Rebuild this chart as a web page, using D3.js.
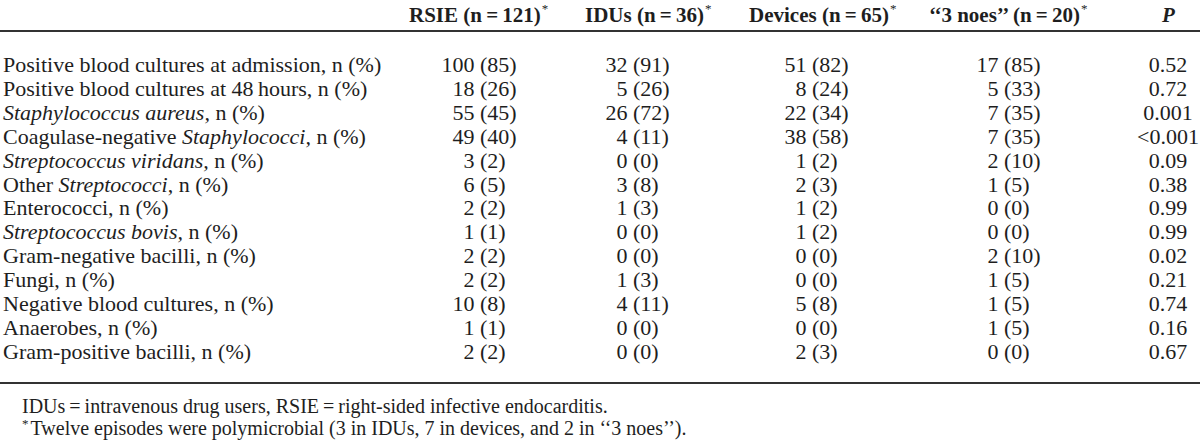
<!DOCTYPE html>
<html>
<head>
<meta charset="utf-8">
<script src="https://cdn.jsdelivr.net/npm/d3@7"></script>
<style>
  html, body { margin: 0; padding: 0; background: #fff; }
  svg { display: block; }
  text { font-family: "Liberation Serif", "Times New Roman", serif; fill: #1e1e1e; }
</style>
</head>
<body>
<svg id="chart" width="1200" height="441"></svg>
<script>
// ---- data ----
const columns = ["RSIE (n\u2009=\u2009121)", "IDUs (n\u2009=\u200936)", "Devices (n\u2009=\u200965)", "\u2018\u20183 noes\u2019\u2019 (n\u2009=\u200920)", "P"];
const columnStar = [true, true, true, true, false];
// labels: segments between underscores are italic
const rowLabels = [
  "Positive blood cultures at admission, n (%)",
  "Positive blood cultures at 48\u2009hours, n (%)",
  "_Staphylococcus aureus,_ n (%)",
  "Coagulase-negative _Staphylococci,_ n (%)",
  "_Streptococcus viridans,_ n (%)",
  "Other _Streptococci_, n (%)",
  "Enterococci, n (%)",
  "_Streptococcus bovis,_ n (%)",
  "Gram-negative bacilli, n (%)",
  "Fungi, n (%)",
  "Negative blood cultures, n (%)",
  "Anaerobes, n (%)",
  "Gram-positive bacilli, n (%)"
];
const rsieN   = [100, 18, 55, 49, 3, 6, 2, 1, 2, 2, 10, 1, 2];
const rsiePct = [85, 26, 45, 40, 2, 5, 2, 1, 2, 2, 8, 1, 2];
const idusN   = [32, 5, 26, 4, 0, 3, 1, 0, 0, 1, 4, 0, 0];
const idusPct = [91, 26, 72, 11, 0, 8, 3, 0, 0, 3, 11, 0, 0];
const devN    = [51, 8, 22, 38, 1, 2, 1, 1, 0, 0, 5, 0, 2];
const devPct  = [82, 24, 34, 58, 2, 3, 2, 2, 0, 0, 8, 0, 3];
const noesN   = [17, 5, 7, 7, 2, 1, 0, 0, 2, 1, 1, 1, 0];
const noesPct = [85, 33, 35, 35, 10, 5, 0, 0, 10, 5, 5, 5, 0];
const pValues = ["0.52", "0.72", "0.001", "<0.001", "0.09", "0.38", "0.99", "0.99", "0.02", "0.21", "0.74", "0.16", "0.67"];
const footnotes = [
  "IDUs\u2009=\u2009intravenous drug users, RSIE\u2009=\u2009right-sided infective endocarditis.",
  "Twelve episodes were polymicrobial (3 in IDUs, 7 in devices, and 2 in \u2018\u20183 noes\u2019\u2019)."
];

// ---- layout ----
const W = 1200, H = 441;
const svg = d3.select("#chart");

const headerX = d3.scaleOrdinal().domain(d3.range(5)).range([409, 585, 749, 929, 1162]);
// x of the opening parenthesis in each data column (counts right-aligned before it)
const parenX = d3.scaleOrdinal().domain(d3.range(4)).range([480, 633, 812, 1004]);
const pX = 1168;
const rowY = d3.scaleLinear().domain([0, rowLabels.length - 1]).range([72, 72 + 12 * 23.9]);

// rules
const rules = [31, 383];
svg.selectAll("line.rule").data(rules).join("line")
  .attr("class", "rule")
  .attr("x1", 0).attr("x2", W)
  .attr("y1", d => d).attr("y2", d => d)
  .attr("stroke", "#333").attr("stroke-width", 1.8);

// header
const hdr = svg.selectAll("text.hdr").data(columns).join("text")
  .attr("class", "hdr")
  .attr("x", (d, i) => headerX(i))
  .attr("y", 22)
  .attr("text-anchor", "start")
  .style("font-size", "21px")
  .style("font-weight", "bold")
  .style("font-style", (d, i) => i === 4 ? "italic" : "normal");
hdr.each(function(d, i) {
  const t = d3.select(this);
  t.append("tspan").text(d);
  if (columnStar[i]) {
    t.append("tspan").text("*").attr("dy", -9).attr("dx", 1).style("font-size", "13px").style("font-weight", "normal");
  }
});

// row labels
const lab = svg.selectAll("text.lab").data(rowLabels).join("text")
  .attr("class", "lab")
  .attr("x", 3)
  .attr("y", (d, i) => rowY(i))
  .style("font-size", "22px");
lab.each(function(d) {
  const t = d3.select(this);
  d.split("_").forEach((seg, k) => {
    if (seg.length) t.append("tspan").text(seg).style("font-style", k % 2 === 1 ? "italic" : "normal");
  });
});

// data cells: count right-aligned, "(pct)" left-aligned at the parenthesis
const series = [[rsieN, rsiePct], [idusN, idusPct], [devN, devPct], [noesN, noesPct]];
series.forEach((s, c) => {
  svg.selectAll("text.n" + c).data(s[0]).join("text")
    .attr("class", "n" + c)
    .attr("x", parenX(c) - 5.5)
    .attr("y", (d, i) => rowY(i))
    .attr("text-anchor", "end")
    .style("font-size", "22px")
    .text(d => d);
  svg.selectAll("text.p" + c).data(s[1]).join("text")
    .attr("class", "p" + c)
    .attr("x", parenX(c))
    .attr("y", (d, i) => rowY(i))
    .attr("text-anchor", "start")
    .style("font-size", "22px")
    .text(d => "(" + d + ")");
});
svg.selectAll("text.pv").data(pValues).join("text")
  .attr("class", "pv")
  .attr("x", pX)
  .attr("y", (d, i) => rowY(i))
  .attr("text-anchor", "middle")
  .style("font-size", "22px")
  .text(d => d);

// footnotes
svg.append("text").attr("x", 22).attr("y", 413).style("font-size", "20px").text(footnotes[0]);
const f2 = svg.append("text").attr("x", 22).attr("y", 435).style("font-size", "20px");
f2.append("tspan").text("*").attr("dy", -7).style("font-size", "13px");
f2.append("tspan").text(footnotes[1]).attr("dy", 7).attr("dx", 2);
</script>
</body>
</html>
